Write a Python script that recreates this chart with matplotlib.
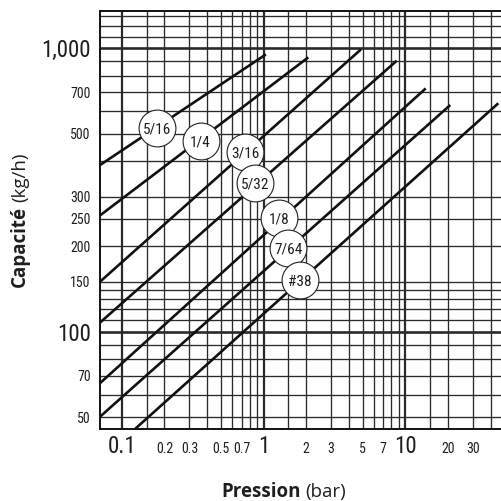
import matplotlib
matplotlib.use("Agg")
import matplotlib.pyplot as plt
from matplotlib import font_manager
from matplotlib.transforms import IdentityTransform, blended_transform_factory

# Orifice sizes and their straight lines (log-log), endpoints
sizes = ["5/16", "1/4", "3/16", "5/32", "1/8", "7/64", "#38"]
p_start = [0.07, 0.07, 0.07, 0.07, 0.07, 0.07, 0.124]
c_start = [387, 257, 150, 107.6, 65.8, 50.1, 45.4]
p_end = [1.04, 2.07, 4.88, 8.71, 13.95, 20.8, 45.4]
c_end = [952, 929, 992, 904, 722, 631, 640]
# where each size badge sits
label_p = [0.178, 0.360, 0.740, 0.871, 1.286, 1.496, 1.81]
label_c = [522, 472, 431, 336, 251, 198, 152]

# grid + tick labels
x_grid = [0.1, 0.15, 0.2, 0.3, 0.4, 0.5, 0.6, 0.7, 0.8, 0.9,
          1, 1.5, 2, 3, 4, 5, 6, 7, 8, 9,
          10, 15, 20, 30, 40]
x_heavy = [0.1, 1, 10]
y_grid = [50, 60, 70, 80, 90, 100, 110, 120, 130, 140, 150, 200, 250, 300,
          400, 500, 600, 700, 800, 900, 1000, 1100, 1200, 1300]
y_heavy = [100, 1000]
x_big = [0.1, 1, 10]
x_big_lbl = ["0.1", "1", "10"]
x_small = [0.2, 0.3, 0.5, 0.7, 2, 3, 5, 7, 20, 30]
x_small_lbl = ["0.2", "0.3", "0.5", "0.7", "2", "3", "5", "7", "20", "30"]
y_ticks = [50, 70, 100, 150, 200, 250, 300, 500, 700, 1000]
y_tick_lbl = ["50", "70", "100", "150", "200", "250", "300", "500", "700", "1,000"]

names = {f.name for f in font_manager.fontManager.ttflist}
narrow = next((n for n in ["Liberation Sans Narrow", "DejaVu Sans Condensed",
                           "Roboto Condensed"] if n in names), "Liberation Sans")
label_font = "Open Sans" if "Open Sans" in names else "DejaVu Sans"
ink = "#1e1e1e"

W = 501
fig = plt.figure(figsize=(W / 100, W / 100), dpi=100)
ax = fig.add_axes([100 / W, (W - 429) / W, 401 / W, 418 / W])
ax.set_xscale("log")
ax.set_yscale("log")
ax.set_xlim(0.0702, 47.4)
ax.set_ylim(45.4, 1354)

for xv in x_grid:
    ax.axvline(xv, color="#2a2a2a", lw=1.6 if xv in x_heavy else 0.95, zorder=1)
for yv in y_grid:
    ax.axhline(yv, color="#2a2a2a", lw=1.9 if yv in y_heavy else 0.95, zorder=1)

for i in range(len(sizes)):
    ax.plot([p_start[i], p_end[i]], [c_start[i], c_end[i]], color="#111111",
            lw=1.9, solid_capstyle="butt", zorder=2)
    ax.plot(label_p[i], label_c[i], marker="o", ms=26.5, mfc="white",
            mec="#222222", mew=0.8, zorder=3, clip_on=False)
    ax.text(label_p[i], label_c[i], sizes[i], ha="center", va="center_baseline",
            fontsize=11, family=narrow, color=ink, zorder=4)

for s in ["left", "top", "bottom"]:
    ax.spines[s].set_linewidth(1.4)
    ax.spines[s].set_color("#111111")
ax.spines["right"].set_visible(False)

# y tick labels
ax.yaxis.set_major_locator(matplotlib.ticker.FixedLocator(y_ticks))
ax.yaxis.set_minor_locator(matplotlib.ticker.NullLocator())
ax.set_yticklabels(y_tick_lbl)
ax.tick_params(axis="y", length=0, pad=6.7)
for t in ax.get_yticklabels():
    big = t.get_text() in ("100", "1,000")
    t.set_fontsize(16.5 if big else 10)
    t.set_family(narrow)
    t.set_color(ink)

# x tick labels drawn by hand so baselines line up
ax.xaxis.set_major_locator(matplotlib.ticker.NullLocator())
ax.xaxis.set_minor_locator(matplotlib.ticker.NullLocator())
trans = blended_transform_factory(ax.transData, ax.transAxes)
for xv, s in zip(x_big, x_big_lbl):
    ax.text(xv, -0.0586, s, transform=trans, ha="center", va="baseline",
            fontsize=16.5, family=narrow, color=ink)
for xv, s in zip(x_small, x_small_lbl):
    ax.text(xv, -0.0586, s, transform=trans, ha="center", va="baseline",
            fontsize=10, family=narrow, color=ink)

# axis titles: bold word + regular unit
ident = IdentityTransform()
t1 = fig.text(221.7, W - 497.3, "Pression", transform=ident, ha="left",
              va="baseline", fontsize=13.5, fontweight="bold", family=label_font,
              color=ink)
t2 = fig.text(25, W - 286.7, "Capacité", transform=ident, ha="left",
              va="baseline", rotation=90, rotation_mode="anchor", fontsize=13.5,
              fontweight="bold", family=label_font, color=ink)
fig.canvas.draw()
r = fig.canvas.get_renderer()
bb1 = t1.get_window_extent(r)
bb2 = t2.get_window_extent(r)
fig.text(bb1.x1 + 4, W - 497.3, "(bar)", transform=ident, ha="left",
         va="baseline", fontsize=13.5, family=label_font, color=ink)
fig.text(25, bb2.y1 + 4, "(kg/h)", transform=ident, ha="left", va="baseline",
         rotation=90, rotation_mode="anchor", fontsize=13.5, family=label_font,
         color=ink)

fig.savefig("out.png", dpi=100)
